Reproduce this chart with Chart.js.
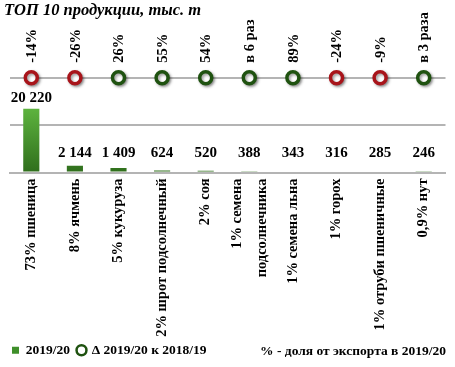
<!DOCTYPE html>
<html>
<head>
<meta charset="utf-8">
<script src="https://cdn.jsdelivr.net/npm/chart.js@4"></script>
<style>
  html, body { margin: 0; padding: 0; background: #fff; }
  #wrap { width: 455px; height: 367px; }
</style>
</head>
<body>
<div id="wrap"><canvas id="topChart" width="455" height="367"></canvas></div>
<script>
// ТОП 10 продукции
const categories = [
    "73% пшеница", "8% ячмень", "5% кукуруза", "2% шрот подсолнечный", "2% соя",
    ["1% семена", "подсолнечника"], "1% семена льна", "1% горох", "1% отруби пшеничные", "0,9% нут"
];
const volumes = [20220, 2144, 1409, 624, 520, 388, 343, 316, 285, 246];
const volumeLabels = ["20 220", "2 144", "1 409", "624", "520", "388", "343", "316", "285", "246"];
const changes = ["-14%", "-26%", "26%", "55%", "54%", "в 6 раз", "89%", "-24%", "-9%", "в 3 раза"];
// circles sit on the top grid line
const markerRow = [30000, 30000, 30000, 30000, 30000, 30000, 30000, 30000, 30000, 30000];

const SERIF = "'Liberation Serif', 'Times New Roman', serif";
const RED = "#a8141a";
const GREEN = "#1f5210";

function ringColor(txt) {
    return txt.charAt(0) === '-' ? RED : GREEN;
}

function barFill(context) {
    const chart = context.chart;
    const area = chart.chartArea;
    if (!area) return "#4a9a30";
    const g = chart.ctx.createLinearGradient(0, area.bottom, 0, chart.scales.y.getPixelForValue(20220));
    g.addColorStop(0, "#2f6e1c");
    g.addColorStop(1, "#5db33e");
    return g;
}

const labelsPlugin = {
    id: 'labelsPlugin',
    beforeDatasetDraw(chart, args) {
        if (args.index === 1) {
            chart.ctx.save();
            chart.ctx.shadowColor = "rgba(0,0,0,0.4)";
            chart.ctx.shadowOffsetX = 1.5;
            chart.ctx.shadowOffsetY = 1.5;
            chart.ctx.shadowBlur = 3;
        }
    },
    afterDatasetDraw(chart, args) {
        if (args.index === 1) chart.ctx.restore();
    },
    afterDraw(chart) {
        const ctx = chart.ctx;
        const xs = chart.scales.x;
        const base = chart.scales.y.getPixelForValue(0);
        ctx.save();
        ctx.fillStyle = "#000";
        ctx.font = "bold 15px " + SERIF;
        // values over bars
        chart.getDatasetMeta(0).data.forEach(function(bar, i) {
            ctx.textAlign = 'center';
            ctx.textBaseline = 'bottom';
            ctx.fillText(volumeLabels[i], bar.x, Math.min(bar.y - 3, base - 12));
        });
        // change labels above circles
        ctx.font = "bold 14.5px " + SERIF;
        chart.getDatasetMeta(1).data.forEach(function(pt, i) {
            ctx.save();
            ctx.translate(pt.x + 1, pt.y - 15);
            ctx.rotate(-Math.PI / 2);
            ctx.textAlign = 'left';
            ctx.textBaseline = 'middle';
            ctx.fillText(changes[i], 0, 0);
            ctx.restore();
        });
        // category labels, rotated
        categories.forEach(function(cat, i) {
            const lines = Array.isArray(cat) ? cat : [cat];
            const x = xs.getPixelForTick(i);
            lines.forEach(function(line, j) {
                ctx.save();
                ctx.translate(x + (j - (lines.length - 1) / 2) * 25, xs.top + 6);
                ctx.rotate(-Math.PI / 2);
                ctx.textAlign = 'right';
                ctx.textBaseline = 'middle';
                ctx.fillText(line, 0, 0);
                ctx.restore();
            });
        });
        // note on the legend row
        const lg = chart.legend;
        ctx.font = "bold 13.5px " + SERIF;
        ctx.textAlign = 'right';
        ctx.textBaseline = 'middle';
        ctx.fillText("% - доля от экспорта в 2019/20", 446, lg.top + lg.height / 2);
        ctx.restore();
    }
};

let ctx = document.getElementById("topChart").getContext('2d');
new Chart(ctx, {
    data: {
        labels: categories,
        datasets: [{
            type: 'bar',
            label: "2019/20",
            data: volumes,
            backgroundColor: barFill,
            borderWidth: 0,
            categoryPercentage: 1,
            barPercentage: 0.37,
            order: 2
        }, {
            type: 'line',
            label: "Δ 2019/20 к 2018/19",
            data: markerRow,
            showLine: false,
            pointStyle: 'circle',
            pointRadius: 6,
            pointBorderWidth: 3.5,
            pointBackgroundColor: "#fff",
            pointBorderColor: changes.map(ringColor),
            backgroundColor: "#fff",
            borderColor: GREEN,
            clip: false,
            order: 1
        }]
    },
    options: {
        responsive: false,
        animation: false,
        layout: { padding: { left: 4, right: 8, top: 0, bottom: 0 } },
        plugins: {
            title: {
                display: true,
                text: "ТОП 10 продукции, тыс. т",
                align: 'start',
                color: "#000",
                font: { family: SERIF, size: 16.5, weight: 'bold', style: 'italic' },
                padding: { top: 1, bottom: 57 }
            },
            legend: {
                position: 'bottom',
                align: 'start',
                labels: {
                    color: "#000",
                    font: { family: SERIF, size: 13.5, weight: 'bold' },
                    usePointStyle: true,
                    boxWidth: 7,
                    boxHeight: 7,
                    padding: 8,
                    generateLabels: function(chart) {
                        return [{
                            text: "2019/20",
                            fillStyle: "#3f8f2a",
                            strokeStyle: "#3f8f2a",
                            lineWidth: 0,
                            pointStyle: 'rect',
                            datasetIndex: 0
                        }, {
                            text: "Δ 2019/20 к 2018/19",
                            fillStyle: "#fff",
                            strokeStyle: GREEN,
                            lineWidth: 2.5,
                            pointStyle: 'circle',
                            datasetIndex: 1
                        }];
                    }
                }
            },
            tooltip: { enabled: false }
        },
        scales: {
            x: {
                grid: { display: false },
                border: { display: true, color: "#b4b4b4", width: 2 },
                ticks: { display: false },
                afterFit: function(scale) { scale.height = 163; }
            },
            y: {
                min: 0,
                max: 30000,
                afterFit: function(scale) { scale.width = 3; },
                ticks: { display: false, stepSize: 15000 },
                grid: { color: "#b4b4b4", lineWidth: 2, drawTicks: false },
                border: { display: false }
            }
        }
    },
    plugins: [labelsPlugin]
});
</script>
</body>
</html>
